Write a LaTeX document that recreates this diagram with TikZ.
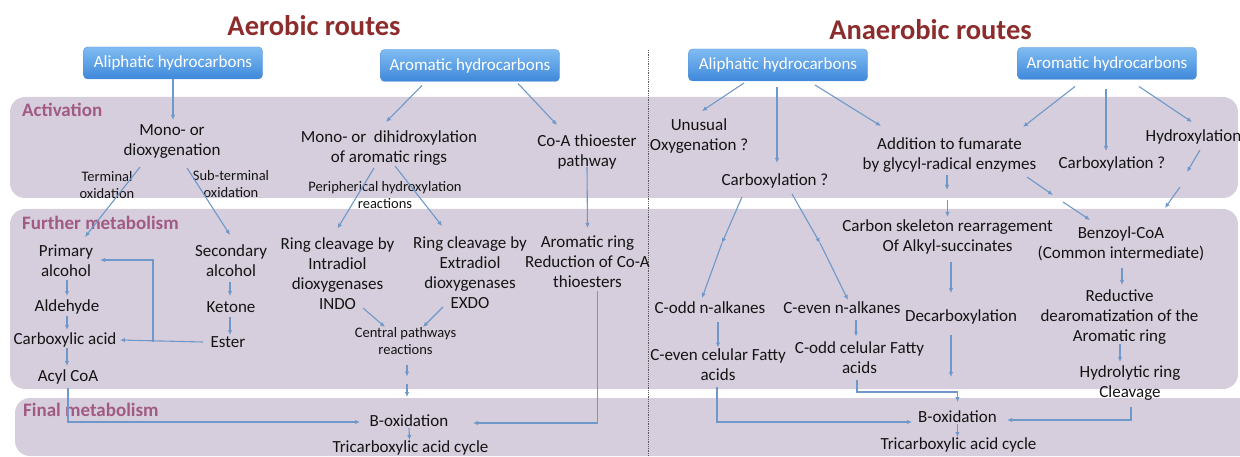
\documentclass[tikz,border=0pt]{standalone}
\usepackage{fontspec}
\setmainfont{Carlito}
\usetikzlibrary{arrows.meta,calc}

\begin{document}
\begin{tikzpicture}[x=1pt,y=-1pt,
		txt/.style={text=ink,align=center,inner sep=0pt,font=\fontsize{17}{20}\selectfont},
		small/.style={txt,font=\fontsize{14.5}{17}\selectfont},
		hc/.style={draw=hcline,top color=hctop,bottom color=hcbot,rounded corners=4pt,text=white,minimum width=179pt,minimum height=32pt,inner sep=0pt,font=\fontsize{17}{20}\selectfont},
		band/.style={fill=bandfill,rounded corners=15pt},
		stage/.style={anchor=west,inner sep=0pt,text=stagecol,font=\bfseries\fontsize{19}{22}\selectfont},
		ttl/.style={inner sep=0pt,text=ttlred,font=\bfseries\fontsize{28.5}{32}\selectfont},
		arr/.style={draw=arrcol,line width=1.1pt,-{Latex[length=5pt,width=4.5pt]}}]
		\definecolor{ink}{RGB}{20,20,20}
		\definecolor{hcline}{RGB}{95,150,215}
		\definecolor{hctop}{RGB}{128,188,242}
		\definecolor{hcbot}{RGB}{62,136,218}
		\definecolor{bandfill}{RGB}{214,206,220}
		\definecolor{stagecol}{RGB}{160,90,132}
		\definecolor{ttlred}{RGB}{140,44,44}
		\definecolor{arrcol}{RGB}{110,152,202}
		\definecolor{dotcol}{RGB}{90,90,90}

		\useasboundingbox (0,0) rectangle (1240,457);
		\clip (0,0) rectangle (1240,457);

		% bands
		\fill[band] (10,97) rectangle (1238,198);
		\fill[band] (10,209) rectangle (1238,389);
		\fill[band] (15,398) rectangle (1265,456);
		\node[stage] (act) at (22,110) {Activation};
		\node[stage] (fur) at (22,223) {Further metabolism};
		\node[stage] (fin) at (23,410) {Final metabolism};
		\draw[densely dotted,line width=0.8pt,dotcol] (648,50) -- (648,457);

		% titles
		\node[ttl] (aer) at (314,26) {Aerobic routes};
		\node[ttl] (anaer) at (930.5,30) {Anaerobic routes};

		% aerobic nodes
		\node[hc] (aliA) at (173,63) {Aliphatic hydrocarbons};
		\node[hc] (aroA) at (470,65.5) {Aromatic hydrocarbons};
		\node[txt] (monoA) at (172,142) {Mono- or\\dioxygenation};
		\node[small] (termA) at (107,185) {Terminal\\oxidation};
		\node[small] (subA) at (231,184) {Sub-terminal\\oxidation};
		\node[txt] (dihA) at (389,148) {Mono- or~ dihidroxylation\\of aromatic rings};
		\node[small] (periA) at (385,195) {Peripherical hydroxylation\\reactions};
		\node[txt] (coaA) at (587,152) {Co-A thioester\\pathway};
		\node[txt] (primA) at (66,261) {Primary\\alcohol};
		\node[txt] (aldA) at (67,307) {Aldehyde};
		\node[txt] (carbA) at (65,340) {Carboxylic acid};
		\node[txt] (acylA) at (68,377) {Acyl CoA};
		\node[txt] (secA) at (231,261) {Secondary\\alcohol};
		\node[txt] (ketA) at (231,307) {Ketone};
		\node[txt] (estA) at (228,342) {Ester};
		\node[txt] (indoA) at (337.5,273.5) {Ring cleavage by\\Intradiol\\dioxygenases\\INDO};
		\node[txt] (exdoA) at (470,273) {Ring cleavage by\\Extradiol\\dioxygenases\\EXDO};
		\node[txt] (redA) at (587.5,262) {Aromatic ring\\Reduction of Co-A\\thioesters};
		\node[small] (centA) at (405.5,341.5) {Central pathways\\reactions};
		\node[txt] (boxA) at (409,421) {B-oxidation};
		\node[txt] (tcaA) at (410.5,448) {Tricarboxylic acid cycle};

		% aerobic arrows
		\draw[arr] (aliA.south) -- ($(monoA)+(1,-22)$);
		\draw[arr] ($(monoA)+(-32,25)$) -- ($(primA)+(19,-24)$);
		\draw[arr] ($(monoA)+(15,26)$) -- ($(secA)+(-1,-26)$);
		\draw[arr] ($(aroA)+(-48,20)$) -- ($(dihA)+(-3,-26)$);
		\draw[arr] ($(aroA)+(48,18)$) -- ($(coaA)+(-30,-27)$);
		\draw[arr] ($(dihA)+(-15,20)$) -- ($(indoA)+(0,-45)$);
		\draw[arr] ($(dihA)+(6,18)$) -- ($(exdoA)+(-28,-47)$);
		\draw[arr] ($(coaA)+(0,15)$) -- ($(redA)+(0,-34)$);
		\draw[arr] ($(indoA)+(25.5,34.5)$) -- ($(centA)+(-20.5,-14.5)$);
		\draw[arr] ($(exdoA)+(-27,34)$) -- ($(centA)+(17.5,-14.5)$);
		\draw[arr] ($(centA)+(1.5,23)$) -- ($(centA)+(1.5,35)$);
		\draw[arr] ($(boxA)+(-2,-37)$) -- ($(boxA)+(-2,-24)$);
		\draw[arr] ($(boxA)+(0,7)$) -- ($(tcaA)+(-1,-8)$);
		\draw[arr] ($(redA)+(10,29)$) |- ($(boxA)+(64,2)$);
		\draw[arr] ($(acylA)+(0,11)$) |- ($(boxA)+(-49,1)$);
		\draw[arr] ($(primA)+(1,19)$) -- ($(aldA)+(0,-11)$);
		\draw[arr] ($(aldA)+(0,9)$) -- ($(carbA)+(2,-10)$);
		\draw[arr] ($(carbA)+(2,8)$) -- ($(acylA)+(-1,-11)$);
		\draw[arr] ($(secA)+(-1,21)$) -- ($(ketA)+(-1,-11)$);
		\draw[arr] ($(ketA)+(-1,10)$) -- ($(estA)+(2,-7)$);
		\draw[arr] ($(estA)+(-25,0)$) -- ($(carbA)+(55,0)$);
		\draw[arr] ($(estA)+(-75,0)$) |- ($(primA)+(34,-1)$);

		% anaerobic nodes
		\node[hc] (aliB) at (778,65) {Aliphatic hydrocarbons};
		\node[hc] (aroB) at (1107,63.5) {Aromatic hydrocarbons};
		\node[txt] (unuB) at (699,136) {Unusual\\Oxygenation ?};
		\node[txt] (carB1) at (775,181) {Carboxylation ?};
		\node[txt] (addB) at (949.5,155) {Addition to fumarate\\by glycyl-radical enzymes};
		\node[txt] (carB2) at (1112,164) {Carboxylation ?};
		\node[txt] (hydB) at (1193.5,137) {Hydroxylation};
		\node[txt] (cskB) at (947.5,237) {Carbon skeleton rearragement\\Of Alkyl-succinates};
		\node[txt] (bzB) at (1121,243.5) {Benzoyl-CoA\\(Common intermediate)};
		\node[txt] (coddB) at (710,308) {C-odd n-alkanes};
		\node[txt] (cevenB) at (842,308) {C-even n-alkanes};
		\node[txt] (decB) at (961,317) {Decarboxylation};
		\node[txt] (fevB) at (718,364.5) {C-even celular Fatty\\acids};
		\node[txt] (fodB) at (859.5,357.5) {C-odd celular Fatty\\acids};
		\node[txt] (rdB) at (1119.5,317) {Reductive\\dearomatization of the\\Aromatic ring};
		\node[txt] (hyB) at (1130,383.5) {Hydrolytic ring\\Cleavage};
		\node[txt] (boxB) at (957.5,417) {B-oxidation};
		\node[txt] (tcaB) at (958.5,445) {Tricarboxylic acid cycle};

		% anaerobic arrows
		\draw[arr] ($(aliB)+(-34,18)$) -- ($(unuB)+(3,-25)$);
		\draw[arr] ($(aliB)+(-1,22)$) -- ($(carB1)+(2,-18)$);
		\draw[arr] ($(aliB)+(37,20)$) -- ($(addB)+(-68.5,-29)$);
		\draw[arr] ($(aroB)+(-32,23)$) -- ($(addB)+(73.5,-28)$);
		\draw[arr] ($(aroB)+(-1,26)$) -- ($(carB2)+(-6,-13)$);
		\draw[arr] ($(aroB)+(32,23)$) -- ($(hydB)+(-1.5,-15)$);
		\draw[arr] ($(hydB)+(6.5,13)$) -- ($(hydB)+(-6.5,35)$);
		\draw[arr] ($(bzB)+(59,-56.5)$) -- ($(bzB)+(44,-35.5)$);
		\draw[arr] ($(addB)+(77.5,22)$) -- ($(addB)+(103.5,40)$);
		\draw[arr] ($(bzB)+(-58,-41.5)$) -- ($(bzB)+(-31,-23.5)$);
		\draw[arr] ($(addB)+(-2.5,20)$) -- ($(addB)+(-2.5,35)$);
		\draw[arr] ($(cskB)+(0,-37)$) -- ($(cskB)+(0,-20)$);
		\draw[arr] ($(carB1)+(-33,16)$) -- ($(coddB)+(12,-65)$);
		\draw[arr] ($(coddB)+(12,-65)$) -- ($(coddB)+(-8,-10)$);
		\draw[arr] ($(carB1)+(17,13)$) -- ($(cevenB)+(-22,-65)$);
		\draw[arr] ($(cevenB)+(-22,-65)$) -- ($(cevenB)+(6,-8)$);
		\draw[arr] ($(coddB)+(8,14)$) -- ($(fevB)+(0,-17)$);
		\draw[arr] ($(cevenB)+(14,12)$) -- ($(fodB)+(-3.5,-21)$);
		\draw[arr] ($(cskB)+(3.5,25)$) -- ($(decB)+(-10,-24)$);
		\draw[arr] ($(decB)+(-10,18)$) -- ($(boxB)+(-6.5,-40)$);
		\draw[arr] ($(fodB)+(-2.5,22)$) |- ($(boxB)+(0,-25)$) -- ($(boxB)+(0,-15)$);
		\draw[arr] ($(fevB)+(-1,22.5)$) |- ($(boxB)+(-45.5,5)$);
		\draw[arr] ($(boxB)+(0,7)$) -- ($(tcaB)+(-1,-8)$);
		\draw[arr] ($(bzB)+(1,24.5)$) -- ($(rdB)+(2.5,-32)$);
		\draw[arr] ($(rdB)+(0.5,27)$) -- ($(hyB)+(-10,-21.5)$);
		\draw[arr] ($(hyB)+(1,23.5)$) |- ($(boxB)+(49.5,3)$);
	\end{tikzpicture}
\end{document}
